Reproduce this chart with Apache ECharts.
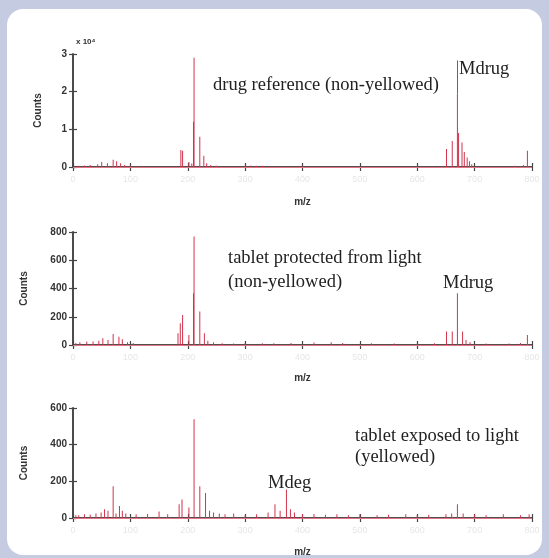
<!DOCTYPE html>
<html><head><meta charset="utf-8">
<script src="https://cdn.jsdelivr.net/npm/echarts@6.0.0/dist/echarts.min.js"></script>
<style>html,body{margin:0;padding:0;background:#c5cbe1;}#c{width:549px;height:558px;}</style>
</head><body><div id="c"></div><script>
// m/z axis ticks (faint, unreadable in source)
const xTickMin = 0, xTickMax = 800, xTickStep = 100;
const xAxisName = 'm/z';
const yAxisName = 'Counts';

// Panel 1: drug reference (non-yellowed), counts
const spec1 = [
  [10,300],[20,400],[30,500],[43,700],[50,1300],[60,1000],[70,1900],[76,1500],[83,1000],[90,500],
  [188,4500],[191,4300],[202,1300],[207,900],[210,12000],[211,29000],[221,8000],[228,3000],[233,1000],[240,500],[250,300],
  [100,300],[120,200],[300,300],[310,400],[320,300],[330,300],[400,200],[500,200],[600,200],
  [651,4800],[661,6900],[670,19500],[672,9000],[678,6500],[682,4000],[687,2500],[691,1500],[695,700],
  [770,300],[785,500],[792,4300]
];
// Panel 2: tablet protected from light
const spec2 = [
  [5,15],[12,20],[24,24],[35,25],[45,30],[52,47],[61,35],[70,78],[80,59],[86,40],[95,20],[105,15],
  [183,83],[187,154],[191,213],[202,71],[210,367],[211,769],[221,237],[229,83],[235,30],[245,20],[260,12],
  [280,10],[300,15],[330,12],[350,12],[380,14],[420,18],[450,20],[470,15],[520,12],[560,10],[600,10],[630,12],
  [651,95],[661,95],[670,367],[679,95],[685,35],[692,20],
  [720,10],[760,10],[780,15],[792,71]
];
// Panel 3: tablet exposed to light (yellowed)
const spec3 = [
  [5,15],[10,15],[20,20],[30,18],[40,25],[49,30],[55,48],[61,39],[70,173],[75,25],[81,66],[86,39],[92,25],
  [110,20],[130,22],[150,36],[165,20],
  [185,75],[190,101],[202,57],[211,538],[221,173],[231,137],[238,40],[245,30],[255,25],[265,20],[280,25],
  [300,15],[320,20],[340,30],[352,75],[361,39],[372,155],[379,48],[386,30],
  [400,20],[420,22],[440,18],[460,20],[480,15],[500,20],[530,15],[550,18],[580,20],[600,15],[620,18],[650,20],[660,25],[670,75],[680,25],
  [700,18],[720,15],[750,20],[780,15],[795,20]
];
const yMax = [30000, 800, 600];
const yStep = [10000, 200, 200];
const texts1 = ['drug reference (non-yellowed)', 'Mdrug'];
const texts2 = ['tablet protected from light', '(non-yellowed)', 'Mdrug'];
const texts3 = ['tablet exposed to light', '(yellowed)', 'Mdeg'];
const expText = 'x 10\u2074';

const grids = [
  {left:73, top:54, width:459, height:113},
  {left:73, top:232, width:459, height:113},
  {left:73, top:408, width:459, height:113}
];
const nameGapsY = [30, 44, 44];
const nameGapsX = [30, 28, 29];
const frame = '#454545';
const red = '#d0344c';

const xAxes = [], yAxes = [], series = [];
const specs = [spec1, spec2, spec3];
for (let i = 0; i < 3; i++) {
  xAxes.push({
    type:'value', gridIndex:i, position:'bottom', min:xTickMin, max:xTickMax, interval:xTickStep,
    name: xAxisName, nameLocation:'middle', nameGap:nameGapsX[i],
    nameTextStyle:{fontFamily:'Liberation Sans', fontWeight:'bold', fontSize:10, color:'#333'},
    axisLine:{lineStyle:{color:frame, width:1.6}},
    axisTick:{show:true, length:4, lineStyle:{color:frame, width:1.2}},
    axisLabel:{color:'#e6e6e6', fontSize:9, margin:8, fontFamily:'Liberation Sans'},
    splitLine:{show:false}
  });
  xAxes.push({
    type:'value', gridIndex:i, position:'top', min:xTickMin, max:xTickMax, interval:xTickStep,
    axisLine:{lineStyle:{color:frame, width:1.6}},
    axisTick:{show:true, length:4, lineStyle:{color:frame, width:1.2}},
    axisLabel:{show:false}, splitLine:{show:false}
  });
  yAxes.push({
    type:'value', gridIndex:i, position:'left', min:0, max:yMax[i], interval:yStep[i],
    name: yAxisName, nameLocation:'middle', nameGap:nameGapsY[i], nameRotate:90,
    nameTextStyle:{fontFamily:'Liberation Sans', fontWeight:'bold', fontSize:10, color:'#333'},
    axisLine:{show:true, lineStyle:{color:frame, width:1.6}},
    axisTick:{show:true, length:4, lineStyle:{color:frame, width:1.2}},
    axisLabel:{fontFamily:'Liberation Sans', fontWeight:'bold', fontSize:10, color:'#333', margin:6,
      formatter: i === 0 ? (v => String(v/10000)) : (v => String(v))},
    splitLine:{show:false}
  });
  yAxes.push({
    type:'value', gridIndex:i, position:'right', min:0, max:yMax[i], interval:yStep[i],
    axisLine:{show:true, lineStyle:{color:frame, width:1.6}},
    axisTick:{show:true, length:4, lineStyle:{color:frame, width:1.2}},
    axisLabel:{show:false}, splitLine:{show:false}
  });
  const s = {
    type:'bar', xAxisIndex:2*i, yAxisIndex:2*i, data:specs[i], barWidth:1,
    itemStyle:{color:red}, silent:true, animation:false, z:3,
    markLine:{silent:true, symbol:'none', label:{show:false},
      lineStyle:{color:'#e07585', width:1, type:'solid'},
      data:[{yAxis:0}]}
  };
  if (i === 0) {
    s.markLine.data.push([{coord:[669,19500], lineStyle:{color:'#666', width:1}}, {coord:[669,28300]}]);
  }
  series.push(s);
}

const serif = 'Liberation Serif';
const txt = (t, x, y, size) => ({type:'text', x:x, y:y,
  style:{text:t, fill:'#222', font:`${size}px "${serif}"`, align:'left', verticalAlign:'middle'}, z:10});
const chart = echarts.init(document.getElementById('c'), null, {renderer:'canvas'});
chart.setOption({
  animation:false,
  backgroundColor:'transparent',
  graphic:[
    {type:'rect', shape:{x:7, y:9, width:535, height:546, r:16}, style:{fill:'#ffffff'}, z:-10},
    {type:'text', left:76, top:38, style:{text:expText, fill:'#333', font:'bold 8px "Liberation Sans"'}, z:10},
    txt(texts1[0], 213, 85, 18.5),
    txt(texts1[1], 459, 69, 18.5),
    txt(texts2[0], 228, 258, 18.5),
    txt(texts2[1], 228, 282, 18.5),
    txt(texts2[2], 443, 283, 18.5),
    txt(texts3[0], 355, 436, 18.5),
    txt(texts3[1], 355, 457, 18.5),
    txt(texts3[2], 268, 483, 18.5)
  ],
  grid:grids,
  xAxis:xAxes,
  yAxis:yAxes,
  series:series
});
</script></body></html>
